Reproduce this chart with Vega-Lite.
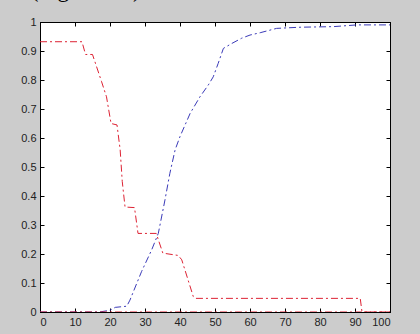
{
  "$schema": "https://vega.github.io/schema/vega-lite/v6.json",
  "autosize": {"type": "none"},
  "padding": {"left": 40, "top": 22, "right": 30, "bottom": 22},
  "width": 350,
  "height": 290,
  "background": "#cccccc",
  "title": {"text": "(Figure 3.2)", "font": "Liberation Serif", "fontSize": 23, "fontWeight": "normal", "anchor": "start", "dx": 10, "offset": 14, "color": "black"},
  "config": {
    "view": {"fill": "white", "stroke": "black", "strokeWidth": 1},
    "axis": {"domainColor": "black", "tickColor": "black", "labelFont": "Liberation Sans", "labelFontSize": 11, "labelColor": "#222222", "grid": false, "title": null, "tickSize": -4, "labelPadding": 8}
  },
  "data": {"values": [
    {"x": 0, "y": 0.932, "s": "a"}, {"x": 12, "y": 0.932, "s": "a"}, {"x": 13, "y": 0.888, "s": "a"}, {"x": 15, "y": 0.888, "s": "a"},
    {"x": 17.6, "y": 0.794, "s": "a"}, {"x": 19, "y": 0.742, "s": "a"}, {"x": 20.3, "y": 0.65, "s": "a"}, {"x": 22, "y": 0.645, "s": "a"},
    {"x": 22.9, "y": 0.56, "s": "a"}, {"x": 23.5, "y": 0.45, "s": "a"}, {"x": 24.3, "y": 0.362, "s": "a"}, {"x": 27, "y": 0.36, "s": "a"},
    {"x": 28, "y": 0.271, "s": "a"}, {"x": 33.2, "y": 0.271, "s": "a"}, {"x": 35.1, "y": 0.203, "s": "a"}, {"x": 39.5, "y": 0.195, "s": "a"},
    {"x": 40.5, "y": 0.18, "s": "a"}, {"x": 43.8, "y": 0.053, "s": "a"}, {"x": 44.5, "y": 0.047, "s": "a"}, {"x": 91.5, "y": 0.047, "s": "a"},
    {"x": 92, "y": 0, "s": "a"}, {"x": 100, "y": 0, "s": "a"},
    {"x": 0, "y": 0, "s": "b"}, {"x": 17, "y": 0, "s": "b"}, {"x": 20, "y": 0.006, "s": "b"}, {"x": 21.5, "y": 0.016, "s": "b"},
    {"x": 24.8, "y": 0.02, "s": "b"}, {"x": 25.7, "y": 0.041, "s": "b"}, {"x": 29, "y": 0.139, "s": "b"}, {"x": 31.9, "y": 0.214, "s": "b"},
    {"x": 33.8, "y": 0.271, "s": "b"}, {"x": 35.7, "y": 0.386, "s": "b"}, {"x": 37.1, "y": 0.478, "s": "b"}, {"x": 38.6, "y": 0.559, "s": "b"},
    {"x": 40, "y": 0.605, "s": "b"}, {"x": 42.9, "y": 0.685, "s": "b"}, {"x": 45.7, "y": 0.742, "s": "b"}, {"x": 48.1, "y": 0.783, "s": "b"},
    {"x": 49.5, "y": 0.811, "s": "b"}, {"x": 50.9, "y": 0.857, "s": "b"}, {"x": 52.4, "y": 0.909, "s": "b"}, {"x": 54.8, "y": 0.926, "s": "b"},
    {"x": 57.6, "y": 0.944, "s": "b"}, {"x": 60, "y": 0.955, "s": "b"}, {"x": 62.9, "y": 0.963, "s": "b"}, {"x": 67.6, "y": 0.978, "s": "b"},
    {"x": 74.3, "y": 0.982, "s": "b"}, {"x": 83.8, "y": 0.984, "s": "b"}, {"x": 90.5, "y": 0.99, "s": "b"}, {"x": 100, "y": 0.99, "s": "b"},
    {"x": 0, "y": 0, "s": "c"}, {"x": 100, "y": 0, "s": "c"}
  ]},
  "layer": [
    {
      "mark": {"type": "line", "strokeWidth": 1, "strokeDash": [7, 3, 2, 3], "clip": true},
      "encoding": {
        "x": {"field": "x", "type": "quantitative", "scale": {"domain": [0, 100], "nice": false, "zero": false},
              "axis": {"orient": "bottom", "values": [0,10,20,30,40,50,60,70,80,90,100]}},
        "y": {"field": "y", "type": "quantitative", "scale": {"domain": [0, 1], "nice": false},
              "axis": {"orient": "left", "values": [0,0.1,0.2,0.3,0.4,0.5,0.6,0.7,0.8,0.9,1], "format": "~g"}},
        "color": {"field": "s", "type": "nominal", "scale": {"domain": ["a", "b", "c"], "range": ["#dd2233", "#3a3ab8", "#dd2233"]}, "legend": null},
        "detail": {"field": "s"}
      }
    },
    {
      "mark": {"type": "line", "opacity": 0},
      "encoding": {
        "x": {"field": "x", "type": "quantitative", "scale": {"domain": [0, 100], "nice": false, "zero": false},
              "axis": {"orient": "top", "values": [0,10,20,30,40,50,60,70,80,90,100], "labels": false}},
        "y": {"field": "y", "type": "quantitative", "scale": {"domain": [0, 1], "nice": false},
              "axis": {"orient": "right", "values": [0,0.1,0.2,0.3,0.4,0.5,0.6,0.7,0.8,0.9,1], "labels": false}},
        "detail": {"field": "s"}
      }
    }
  ],
  "resolve": {"axis": {"x": "independent", "y": "independent"}}
}
